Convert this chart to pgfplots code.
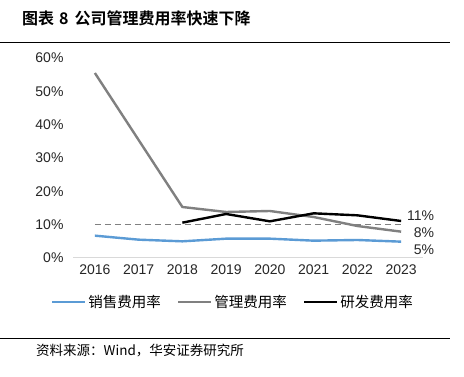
\documentclass[border=0pt]{standalone}
\usepackage{fontspec}
\setmainfont{Liberation Sans}
\newfontfamily\cjk[BoldFont={Noto Sans CJK SC Bold}]{Noto Sans CJK SC}
\usepackage{pgfplots}
\pgfplotsset{compat=1.18}
\definecolor{cblue}{HTML}{5B9BD5}
\definecolor{cgray}{HTML}{808080}
\definecolor{caxis}{HTML}{D9D9D9}
\begin{document}
\begin{tikzpicture}[x=1pt,y=1pt]
\useasboundingbox (0,0) rectangle (464,377);
\fill[white] (0,0) rectangle (464,377);
% title
\node[anchor=west,inner sep=0pt] at (22,359) {\cjk\bfseries\fontsize{16}{18}\selectfont 图表\hspace{5pt}8\hspace{6pt}公司管理费用率快速下降};
\draw[line width=0.8pt] (0,335) -- (450,335);
\draw[line width=0.8pt] (0,39) -- (450,39);
\node[anchor=west,inner sep=0pt] at (36,26) {\cjk\fontsize{13.5}{16}\selectfont 资料来源：Wind，华安证券研究所};
\begin{axis}[
  at={(73pt,119pt)}, anchor=south west,
  scale only axis, width=350pt, height=200pt,
  xmin=2015.5, xmax=2023.5, ymin=0, ymax=60,
  axis x line*=bottom, axis y line*=left,
  x axis line style={caxis, line width=1pt, -},
  y axis line style={draw=none},
  xtick={2016,...,2023}, ytick={0,10,...,60},
  major tick length=0pt,
  xticklabel={\pgfmathprintnumber[1000 sep=]{\tick}},
  yticklabel={\pgfmathprintnumber{\tick}\%},
  /pgf/number format/assume math mode=true,
  tick label style={font=\fontsize{14}{16}\selectfont, text=black!85},
  xticklabel style={yshift=-3pt},
  yticklabel style={xshift=-6pt},
  tick style={draw=none},
  clip=false,
  legend style={at={(0.457,-0.22)}, anchor=center, draw=none, fill=none,
    font=\cjk\fontsize{14.5}{16}\selectfont, legend columns=3,
    /tikz/every even column/.append style={column sep=14pt}},
  legend image code/.code={\draw[#1] (0pt,0pt) -- (33pt,0pt);},
]
\addplot[cblue, line width=2.4pt] coordinates {(2016,6.7) (2017,5.5) (2018,5.0) (2019,5.8) (2020,5.8) (2021,5.2) (2022,5.4) (2023,4.9)};
\addlegendentry{销售费用率}
\addplot[cgray, line width=2.4pt] coordinates {(2016,55.5) (2017,35.4) (2018,15.3) (2019,13.8) (2020,14.1) (2021,12.3) (2022,9.6) (2023,7.9)};
\addlegendentry{管理费用率}
\addplot[black, line width=2.4pt] coordinates {(2018,10.6) (2019,13.2) (2020,11.0) (2021,13.4) (2022,12.8) (2023,11.1)};
\addlegendentry{研发费用率}
\addplot[cgray, line width=1.6pt, dash pattern=on 6pt off 4pt, forget plot] coordinates {(2016,10) (2023,10)};
\node[anchor=east, inner sep=0pt, font=\fontsize{14}{16}\selectfont, text=black!85] at (axis cs:2023.76,12.6) {11\%};
\node[anchor=east, inner sep=0pt, font=\fontsize{14}{16}\selectfont, text=black!85] at (axis cs:2023.76,7.7) {8\%};
\node[anchor=east, inner sep=0pt, font=\fontsize{14}{16}\selectfont, text=black!85] at (axis cs:2023.76,2.6) {5\%};
\end{axis}
\end{tikzpicture}
\end{document}
